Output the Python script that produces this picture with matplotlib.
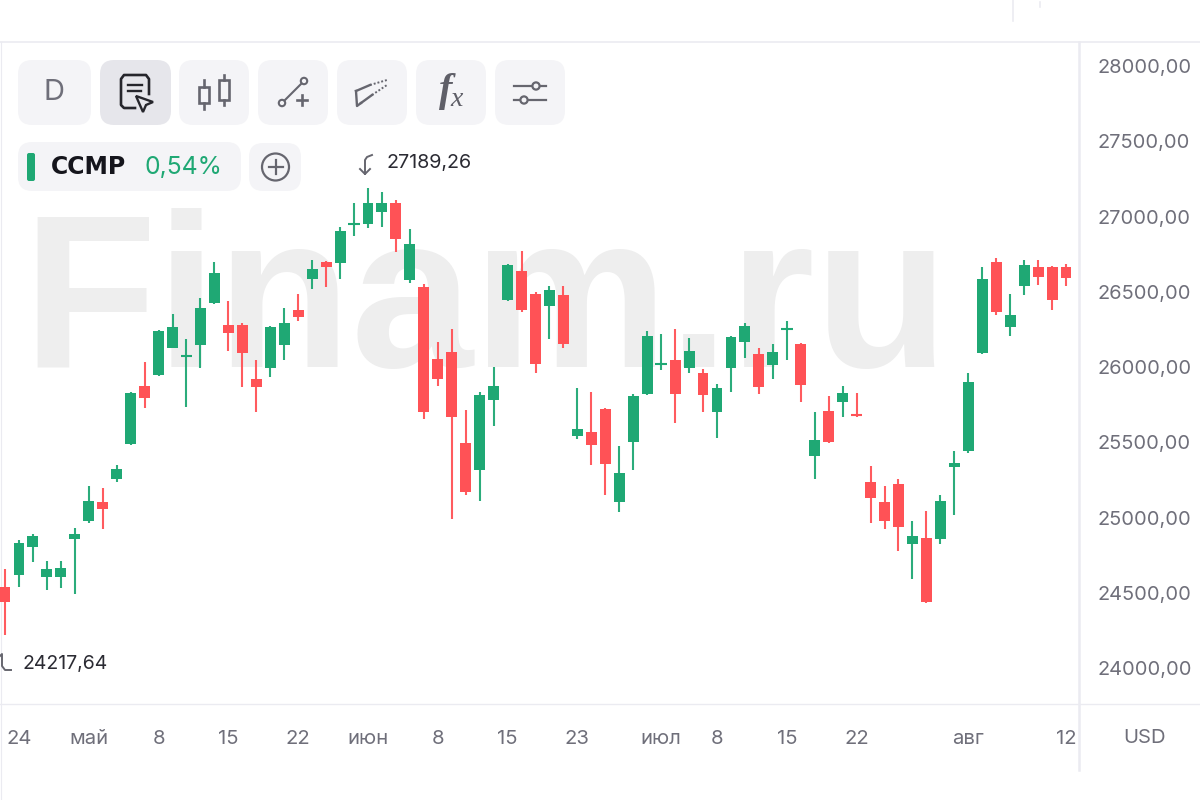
import matplotlib
matplotlib.use("Agg")
import matplotlib.pyplot as plt
from matplotlib.patches import FancyBboxPatch, Rectangle, Circle, Polygon
from matplotlib.ticker import FuncFormatter, FixedLocator

opens = [24540,24616,24802,24603,24603,24855,24979,25101,25256,25487,25874,25947,26128,26072,26146,26423,26277,26277,25918,25991,
         26146,26377,26587,26698,26689,26945,26948,27032,27088,26578,26534,26055,26098,25497,25314,25779,26443,26640,26485,26407,
         26477,25544,25570,25723,25105,25502,25821,26018,26045,25991,25958,25703,25991,26168,26087,26015,26252,26153,25409,25710,
         25770,25684,25238,25101,25221,24824,24864,24855,25338,25444,26091,26698,26266,26538,26667,26665,26665]
highs = [24658,24851,24888,24711,24711,24932,25209,25196,25349,25835,26031,26245,26350,26184,26461,26700,26441,26291,26047,26270,
         26390,26485,26711,26703,26928,27088,27189,27161,27110,26917,26552,26164,26253,25714,25832,26002,26683,26773,26497,26540,
         26540,25863,25832,25728,25477,25819,26241,26219,26253,26195,25987,25887,26206,26293,26124,26153,26308,26158,25699,25809,
         25876,25829,25344,25207,25254,24975,25045,25152,25442,25958,26667,26722,26485,26711,26711,26670,26685]
lows = [24218,24538,24702,24518,24534,24490,24962,24924,25238,25480,25726,25940,26125,25736,25991,26420,26108,25865,25703,25932,
        26047,26308,26516,26534,26587,26871,26922,26932,26766,26556,25657,25876,24990,25150,25112,25610,26438,26364,25962,26184,
        26124,25520,25349,25150,25035,25314,25814,25978,25628,25962,25701,25530,25834,26058,25821,25920,26047,25770,25256,25497,
        25670,25670,24964,24924,24779,24589,24434,24824,25017,25427,26085,26346,26208,26479,26545,26379,26536]
closes = [24441,24833,24877,24656,24666,24890,25110,25057,25322,25829,25796,26239,26264,26080,26390,26623,26224,26091,25865,26264,
          26291,26334,26651,26667,26904,26952,27088,27088,26851,26817,25703,25920,25670,25168,25814,25874,26678,26379,26018,26512,
          26155,25586,25482,25354,25294,25809,26208,26025,25823,26106,25814,25861,26197,26276,25867,26100,26259,25879,25515,25502,
          25829,25677,25132,24979,24937,24877,24439,25108,25364,25902,26585,26368,26344,26680,26600,26443,26590]

x_tick_positions = [1, 6, 11, 16, 21, 26, 31, 36, 41, 47, 51, 56, 61, 69, 76]
x_tick_labels = ["24", "май", "8", "15", "22", "июн", "8", "15", "23", "июл", "8", "15", "22", "авг", "12"]
y_ticks = [24000, 24500, 25000, 25500, 26000, 26500, 27000, 27500, 28000]
high_label = "27189,26"
low_label = "24217,64"

GREEN, RED = "#1fa874", "#ff5256"
GRID, TXT = "#ebebf1", "#6f6f7a"
plt.rcParams["font.family"] = ["Inter", "DejaVu Sans"]

W, H = 1200, 800
fig = plt.figure(figsize=(12, 8), dpi=100, facecolor="white")

def px_axes(z):
    a = fig.add_axes([0, 0, 1, 1], zorder=z)
    a.set_xlim(0, W); a.set_ylim(H, 0); a.axis("off")
    a.patch.set_alpha(0)
    return a

bg = px_axes(0)
bg.text(22, 367, "Finam.ru", fontsize=158, color="#eeeeee", fontweight="bold",
        family="Liberation Sans", ha="left", va="baseline")
bg.plot([0, 1200], [42, 42], color=GRID, lw=1.2)
bg.plot([0, 1200], [704, 704], color=GRID, lw=1)
bg.plot([1079, 1079], [42, 770], color=GRID, lw=1.8)
bg.plot([1013, 1013], [0, 21], color=GRID, lw=1.2)
bg.plot([1040, 1040], [2, 7], color=GRID, lw=1.2)
bg.plot([0.5, 0.5], [42, 800], color=GRID, lw=0.8)

# price panel: pixel frame 0..1079 x 42..704
ax = fig.add_axes([0, (H - 704) / H, 1079 / W, (704 - 42) / H], zorder=1)
ax.patch.set_alpha(0)
for s in ax.spines.values():
    s.set_visible(False)
ax.set_xlim(-0.358, 76.93)
ax.set_ylim(23761, 28160)

for i, (o, h, l, c) in enumerate(zip(opens, highs, lows, closes)):
    col = GREEN if c >= o else RED
    ax.vlines(i, l, h, color=col, lw=1.5, alpha=0.95, zorder=2)
    if abs(c - o) < 12:
        ax.hlines((o + c) / 2, i - 0.42, i + 0.42, color=col, lw=1.5, zorder=3)
    else:
        ax.bar(i, abs(c - o), bottom=min(o, c), width=0.78, color=col, linewidth=0, zorder=3)

ax.yaxis.tick_right()
ax.yaxis.set_major_locator(FixedLocator(y_ticks))
ax.yaxis.set_major_formatter(FuncFormatter(lambda v, _: f"{v:.2f}".replace(".", ",")))
ax.xaxis.set_major_locator(FixedLocator(x_tick_positions))
ax.set_xticklabels(x_tick_labels)
ax.tick_params(axis="y", length=0, pad=13.5, labelsize=14.4, labelcolor=TXT)
ax.tick_params(axis="x", length=0, pad=18.5, labelsize=14.6, labelcolor=TXT)

# interface layer
ui = px_axes(2)

def box(x0, x1, y0, y1, fc="#f4f4f7", r=14):
    ui.add_patch(FancyBboxPatch((x0 + r, y0 + r), x1 - x0 - 2 * r, y1 - y0 - 2 * r,
                                boxstyle=f"round,pad={r},rounding_size={r}",
                                fc=fc, ec="none"))

buttons = [(18, 91), (100, 171), (179, 249), (258, 328), (337, 407), (416, 486), (495, 565)]
for k, (a, b) in enumerate(buttons):
    box(a, b, 60, 125, fc="#e6e6eb" if k == 1 else "#f4f4f7")
ui.text(54.5, 93, "D", fontsize=21, color="#6f6f7a", ha="center", va="center")

DK, MD = "#26262c", "#66666f"
# report icon
ui.plot([135, 124, 121, 121, 124, 146, 149, 149], [108, 108, 105, 79, 75, 75, 79, 94], color=DK, lw=1.9)
ui.plot([128, 142], [85, 85], color=DK, lw=1.7)
ui.plot([128, 141], [91, 91], color=DK, lw=1.7)
ui.add_patch(Polygon([(136, 96), (153, 102), (146, 105), (143, 112)], closed=True, fc="none", ec=DK, lw=1.7))
# candles icon
ui.add_patch(Rectangle((199, 87), 10, 16, fc="none", ec=MD, lw=1.9))
ui.plot([204, 204], [80, 87], color=MD, lw=1.9); ui.plot([204, 204], [103, 109], color=MD, lw=1.9)
ui.add_patch(Rectangle((218.5, 80), 10, 20, fc="none", ec=MD, lw=1.9))
ui.plot([223.5, 223.5], [75, 80], color=MD, lw=1.9); ui.plot([223.5, 223.5], [100, 105], color=MD, lw=1.9)
# line + icon
ui.add_patch(Circle((282, 103), 3.2, fc="none", ec=MD, lw=1.5))
ui.add_patch(Circle((304, 81), 3.2, fc="none", ec=MD, lw=1.5))
ui.plot([284.5, 301.5], [100.5, 83.5], color=MD, lw=1.5)
ui.plot([297, 307], [100, 100], color=MD, lw=1.9)
ui.plot([302, 302], [95, 105], color=MD, lw=1.9)
# channel icon
ui.plot([356, 357, 361], [91, 106, 103], color=MD, lw=1.7)
ui.plot([356, 370], [91, 85], color=MD, lw=1.7)
ui.plot([370, 387], [85, 80], color=MD, lw=1.4, ls=(0, (1, 1)))
ui.plot([361, 372], [103, 95], color=MD, lw=1.7)
ui.plot([372, 387], [95, 85], color=MD, lw=1.4, ls=(0, (1, 1)))
# f(x) icon
ui.text(446, 92, "f", fontsize=29, family="Liberation Serif", style="italic", fontweight="bold",
        color="#5f5f68", ha="center", va="center")
ui.text(457, 100, "x", fontsize=20, family="Liberation Serif", style="italic",
        color="#5f5f68", ha="center", va="center")
# sliders icon
ui.plot([514, 546], [86, 86], color=MD, lw=1.6)
ui.plot([514, 546], [100, 100], color=MD, lw=1.6)
ui.add_patch(Circle((536, 86), 3.6, fc="#f4f4f7", ec=MD, lw=1.6, zorder=5))
ui.add_patch(Circle((524, 100), 3.6, fc="#f4f4f7", ec=MD, lw=1.6, zorder=5))

# instrument legend
box(18, 241, 142, 191)
box(249, 301, 143, 191)
ui.add_patch(FancyBboxPatch((29, 155), 4, 24, boxstyle="round,pad=2,rounding_size=2", fc=GREEN, ec="none"))
ui.text(51, 167, "CCMP", fontsize=17, fontweight="bold", color="#15151c", va="center", ha="left",
        family="DejaVu Sans")
ui.text(145, 167, "0,54%", fontsize=17.8, color=GREEN, va="center", ha="left")
ui.add_patch(Circle((275.5, 167), 13.5, fc="none", ec=MD, lw=1.6))
ui.plot([268.5, 282.5], [167, 167], color=MD, lw=1.6)
ui.plot([275.5, 275.5], [160, 174], color=MD, lw=1.6)

# extremes
ui.text(386, 163, high_label, fontsize=14.2, color="#2b2b33", va="center")
ui.text(23, 664, low_label, fontsize=14, color="#2b2b33", va="center")
ui.plot([372, 367, 365, 365], [155, 157, 160, 174], color=MD, lw=1.4)
ui.plot([360, 365, 370], [169, 174, 169], color=MD, lw=1.4)
ui.plot([0, 2, 2, 5, 11], [656, 654, 666, 670, 670], color=MD, lw=1.4)

# currency label on the price scale
ui.text(1145, 738, "USD", fontsize=14.6, color=TXT, ha="center", va="center")

fig.savefig("out.png", dpi=100)
